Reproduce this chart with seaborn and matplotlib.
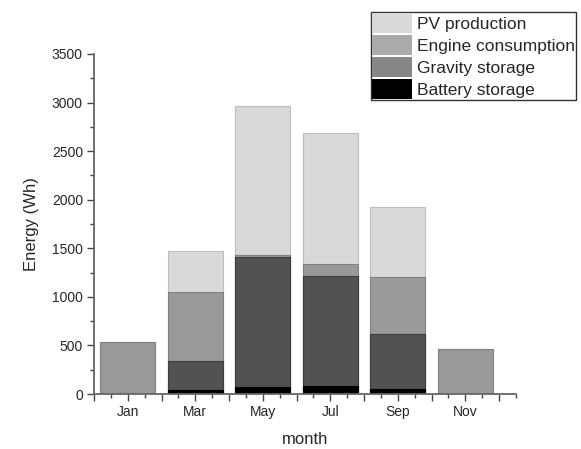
import pandas as pd
import seaborn as sns
import matplotlib.pyplot as plt
from matplotlib.patches import Patch

months = ['Jan', 'Mar', 'May', 'Jul', 'Sep', 'Nov']
battery = [0, 45, 72, 85, 55, 0]
gravity = [0, 295, 1335, 1130, 565, 0]
engine = [535, 715, 27, 127, 585, 465]
pv = [0, 420, 1530, 1345, 715, 0]

series = ['PV production', 'Engine consumption', 'Gravity storage', 'Battery storage']
bar_colors = ['#d9d9d9', '#999999', '#525252', '#000000']
edge_colors = ['#bdbdbd', '#808080', '#3c3c3c', '#000000']
legend_colors = ['#d9d9d9', '#aaaaaa', '#878787', '#000000']

df = pd.DataFrame({'month': months})
df['Battery storage'] = battery
df['Gravity storage'] = df['Battery storage'] + gravity
df['Engine consumption'] = df['Gravity storage'] + engine
df['PV production'] = df['Engine consumption'] + pv

sns.set_style('ticks')
plt.rcParams['font.family'] = ['Liberation Sans', 'DejaVu Sans']

fig = plt.figure(figsize=(5.81, 4.49), dpi=100)
ax = fig.add_axes([94 / 581, 1 - 394 / 449, (516 - 94) / 581, (394 - 54) / 449])

# stacked bars: draw cumulative totals from the top layer down
for name, c, ec in zip(series, bar_colors, edge_colors):
    sns.barplot(data=df, x='month', y=name, color=c, saturation=1, width=0.81,
                edgecolor=ec, linewidth=0.8, ax=ax)

ax.set_xlim(-0.5, 5.75)
ax.set_ylim(0, 3500)

xt = [i * 0.5 - 0.5 for i in range(13)]
xl = [months[int(t)] if t == int(t) and 0 <= t <= 5 else '' for t in xt]
ax.set_xticks(xt, xl)
ax.set_xticks([i * 0.25 - 0.5 for i in range(26)], minor=True)
ax.set_yticks(range(0, 3501, 500))
ax.set_yticks(range(0, 3501, 250), minor=True)

ax.tick_params(which='major', length=5, width=1, color='#444444', labelsize=10, pad=3)
ax.tick_params(which='minor', length=3, width=1, color='#444444')

for s in ['top', 'right']:
    ax.spines[s].set_visible(False)
for s in ['left', 'bottom']:
    ax.spines[s].set_color('#666666')
    ax.spines[s].set_linewidth(1.3)

ax.set_xlabel('month', fontsize=12, labelpad=9)
ax.set_ylabel('Energy (Wh)', fontsize=12, labelpad=9)

handles = [Patch(facecolor=c, edgecolor='none', label=n) for n, c in zip(series, legend_colors)]
leg = fig.legend(handles=handles, loc='upper left', bbox_to_anchor=(371 / 581, 1 - 12 / 449),
                 bbox_transform=fig.transFigure, frameon=True, fancybox=False,
                 edgecolor='#333333', framealpha=1, borderpad=0.05, labelspacing=0.12,
                 handlelength=2.3, handleheight=1.4, handletextpad=0.3,
                 borderaxespad=0, fontsize=12.5)
leg.get_frame().set_linewidth(1)

fig.savefig('out.png', dpi=100)
